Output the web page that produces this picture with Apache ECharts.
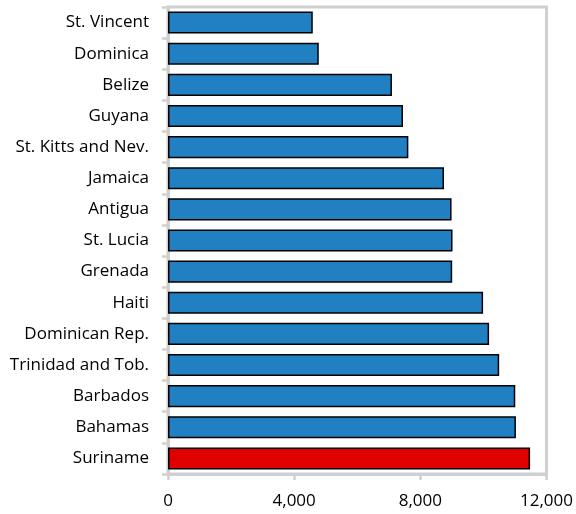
<!DOCTYPE html>
<html>
<head>
<meta charset="utf-8">
<script src="https://cdn.jsdelivr.net/npm/echarts@6/dist/echarts.min.js"></script>
<style>
  html, body { margin: 0; padding: 0; background: #fff; }
  #chart { width: 576px; height: 514px; }
</style>
</head>
<body>
<div id="chart"></div>
<script>
const countries = [
  'St. Vincent', 'Dominica', 'Belize', 'Guyana', 'St. Kitts and Nev.',
  'Jamaica', 'Antigua', 'St. Lucia', 'Grenada', 'Haiti',
  'Dominican Rep.', 'Trinidad and Tob.', 'Barbados', 'Bahamas', 'Suriname'
];
const values = [
  4590, 4780, 7100, 7450, 7620,
  8750, 8990, 9020, 9010, 9990,
  10180, 10500, 11010, 11030, 11480
];
const highlighted = ['Suriname'];
const xTicks = [0, 4000, 8000, 12000];

const blue = '#2080c2';
const red = '#e00000';
const frame = '#d0d0d0';

const chart = echarts.init(document.getElementById('chart'), null, { renderer: 'canvas' });
chart.setOption({
  animation: false,
  grid: {
    left: 168, right: 28, top: 7, bottom: 40,
    show: true, borderColor: frame, borderWidth: 3
  },
  xAxis: {
    type: 'value',
    min: xTicks[0], max: xTicks[xTicks.length - 1],
    interval: xTicks[1] - xTicks[0],
    axisLine: { show: true, lineStyle: { color: frame, width: 3 } },
    axisTick: { show: true, length: 6, lineStyle: { color: frame, width: 2.5 } },
    splitLine: { show: false },
    axisLabel: {
      color: '#000', fontSize: 17, fontFamily: 'Open Sans', margin: 19,
      formatter: v => v.toLocaleString('en-US')
    }
  },
  yAxis: {
    type: 'category',
    data: countries,
    inverse: true,
    axisLine: { show: true, lineStyle: { color: frame, width: 3 } },
    axisTick: { show: true, length: 6, lineStyle: { color: frame, width: 2.5 } },
    axisLabel: { color: '#000', fontSize: 17, fontFamily: 'Open Sans', margin: 19 }
  },
  series: [{
    type: 'bar',
    barCategoryGap: '29%',
    data: values.map((v, i) => ({
      value: v,
      itemStyle: { color: highlighted.includes(countries[i]) ? red : blue }
    })),
    itemStyle: { borderColor: '#000', borderWidth: 1.5 }
  }]
});
</script>
</body>
</html>
